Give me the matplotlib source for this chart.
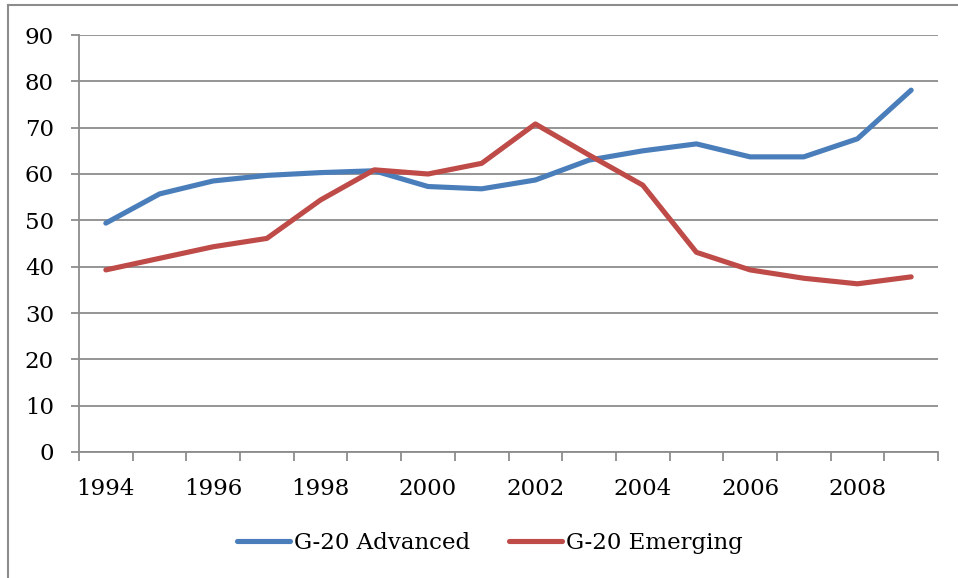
import matplotlib.pyplot as plt
from matplotlib.lines import Line2D

# data
years = list(range(1994, 2010))
advanced = [49.4, 55.7, 58.5, 59.7, 60.3, 60.7, 57.3, 56.8,
            58.7, 63.0, 65.0, 66.5, 63.7, 63.7, 67.6, 78.1]
emerging = [39.3, 41.8, 44.3, 46.1, 54.4, 60.9, 60.0, 62.3,
            70.8, 64.1, 57.6, 43.1, 39.3, 37.5, 36.3, 37.8]
y_ticks = list(range(0, 100, 10))

W, H = 958, 578
fig = plt.figure(figsize=(W / 100, H / 100), dpi=100)
plt.rcParams['font.family'] = ['DejaVu Serif']

ax = fig.add_axes([79 / W, (H - 452) / H, (938 - 79) / W, (452 - 35) / H])

grid_col = '#8c8c8c'
x = list(range(len(years)))
ax.plot(x, advanced, color='#4a7ebb', lw=3.7, solid_capstyle='round',
        solid_joinstyle='round', label='G-20 Advanced', zorder=3)
ax.plot(x, emerging, color='#be4b48', lw=3.7, solid_capstyle='round',
        solid_joinstyle='round', label='G-20 Emerging', zorder=3)

ax.set_xlim(-0.5, len(years) - 0.5)
ax.set_ylim(0, 90)
ax.set_yticks(y_ticks)
ax.yaxis.grid(True, color=grid_col, lw=1.3)
ax.set_axisbelow(True)

# category axis: tick marks between categories, labels every two years
ax.set_xticks([i - 0.5 for i in range(len(years) + 1)])
ax.set_xticklabels([])
ax.set_xticks(x[::2], minor=True)
ax.set_xticklabels([str(y) for y in years[::2]], minor=True)
ax.tick_params(axis='x', which='minor', length=0, pad=19, labelsize=16.5)
ax.tick_params(axis='x', which='major', length=6.5, color=grid_col, width=1.3)
ax.tick_params(axis='y', length=6, color=grid_col, width=1.3, pad=12, labelsize=16.5)

for s in ['top', 'right']:
    ax.spines[s].set_visible(False)
for s in ['left', 'bottom']:
    ax.spines[s].set_color(grid_col)
    ax.spines[s].set_linewidth(1.3)

fig.legend(loc='center', bbox_to_anchor=(490 / W, 1 - 543 / H), ncol=2,
           frameon=False, fontsize=16.5, handlelength=2.3, handletextpad=0.2,
           columnspacing=1.7)

# chart frame (top and left edges visible)
fig.add_artist(Line2D([8 / W, 8 / W], [0, 1 - 5 / H], color='#8c8c8c', lw=1.5))
fig.add_artist(Line2D([8 / W, 1], [1 - 5 / H, 1 - 5 / H], color='#8c8c8c', lw=1.5))

fig.savefig('out.png', dpi=100)
